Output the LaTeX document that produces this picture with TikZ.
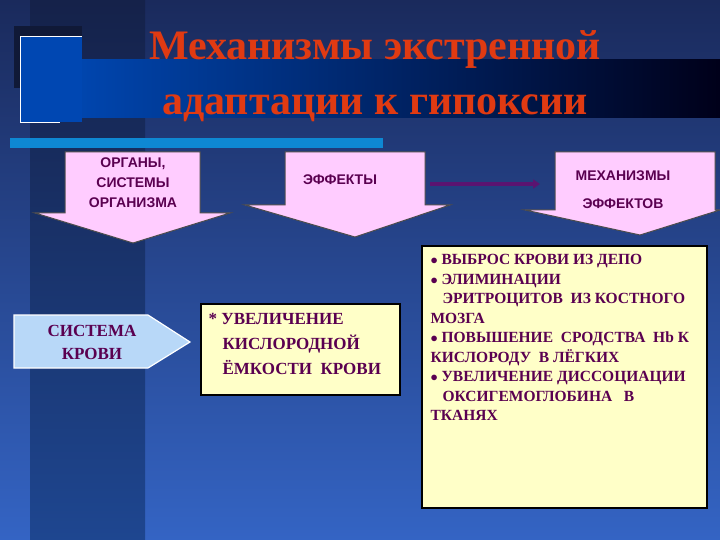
\documentclass[tikz,border=0pt]{standalone}
\usepackage{fontspec}
\setmainfont{Liberation Serif}
\newfontfamily\sansf{Liberation Sans}
\usetikzlibrary{arrows.meta}
\definecolor{navy}{HTML}{1A2A5C}
\definecolor{bluebot}{HTML}{3464C4}
\definecolor{band}{HTML}{1E4690}
\definecolor{txt}{HTML}{5A0050}
\definecolor{pinkf}{HTML}{FFCCFF}
\definecolor{yel}{HTML}{FFFFC8}
\definecolor{ttl}{HTML}{E03A12}
\definecolor{lblue}{HTML}{B8D8F8}
\definecolor{arr}{HTML}{5A1470}
\tikzset{
 downarrow/.style={fill=pinkf,draw=black!70,line width=1pt},
 ybox/.style={fill=yel,draw=black,line width=1.5pt},
 atext/.style={text=txt,font=\sansf\bfseries\fontsize{14}{20}\selectfont,align=center},
 ytext/.style={text=txt,align=left,anchor=north west}
}
\begin{document}
\begin{tikzpicture}[x=1pt,y=-1pt]
\useasboundingbox (0,0) rectangle (720,540);
\shade[top color=navy,bottom color=bluebot] (0,0) rectangle (720,540);
\shade[top color=navy!80!black,bottom color=band] (30,0) rectangle (145,540);
\shade[left color=blue!60!cyan!70!black,right color=black!90!blue] (60,60) rectangle (720,118);
\fill[navy!60!black] (14,26) rectangle (82,88);
\fill[blue!60!cyan!70!black] (20,36) rectangle (82,122);
\draw[white,line width=0.8pt] (82,36) -- (20,36) -- (20,122) -- (60,122);
\fill[cyan!70!blue] (10,138) rectangle (383,148);
\node[text=ttl,font=\bfseries\fontsize{42}{55}\selectfont,align=center] (title) at (375,76) {Механизмы экстренной\\адаптации к гипоксии};
% down arrows
\draw[downarrow] (65,152) -- (200,152) -- (200,213) -- (230,213) -- (133,243) -- (35,213) -- (65,213) -- cycle;
\node[atext] (a1) at (133,183) {ОРГАНЫ,\\СИСТЕМЫ\\ОРГАНИЗМА};
\draw[downarrow] (285,152) -- (425,152) -- (425,205) -- (450,205) -- (355,237) -- (245,205) -- (285,205) -- cycle;
\node[atext] (a2) at (340,180) {ЭФФЕКТЫ};
\draw[downarrow] (555,152) -- (715,152) -- (715,210) -- (720,210) -- (640,235) -- (525,210) -- (555,210) -- cycle;
\node[atext,font=\sansf\bfseries\fontsize{14}{28}\selectfont] (a3) at (623,190) {МЕХАНИЗМЫ\\ЭФФЕКТОВ};
\coordinate (h1) at (430,184);
\coordinate (h2) at (540,184);
\draw[arr,line width=3.5pt,-{Triangle[length=7pt,width=9pt]}] (h1) -- (h2);
% left arrow
\draw[fill=lblue,draw=white,line width=1.2pt] (14,315) -- (148,315) -- (190,342) -- (148,368) -- (14,368) -- cycle;
\node[text=txt,font=\bfseries\fontsize{17}{23}\selectfont,align=center] (sk) at (92,342) {СИСТЕМА\\КРОВИ};
% middle box
\draw[ybox] (201,304) rectangle (400,395);
\node[ytext,font=\bfseries\fontsize{17}{25}\selectfont] (mid) at (205,310) {* УВЕЛИЧЕНИЕ\\\hspace*{14pt}КИСЛОРОДНОЙ\\\hspace*{14pt}ЁМКОСТИ\ \ КРОВИ};
% right box
\draw[ybox] (422,246) rectangle (707,508);
\node[ytext,font=\bfseries\fontsize{15.5}{19.5}\selectfont] (right) at (427,251) {$\bullet$ ВЫБРОС КРОВИ ИЗ ДЕПО\\$\bullet$ ЭЛИМИНАЦИИ\\\hspace*{12pt}ЭРИТРОЦИТОВ\ \ ИЗ КОСТНОГО\\МОЗГА\\$\bullet$ ПОВЫШЕНИЕ\ \ СРОДСТВА\ \ Нb К\\КИСЛОРОДУ\ \ В ЛЁГКИХ\\$\bullet$ УВЕЛИЧЕНИЕ ДИССОЦИАЦИИ\\\hspace*{12pt}ОКСИГЕМОГЛОБИНА\ \ \ В\\ТКАНЯХ};
\end{tikzpicture}
\end{document}
